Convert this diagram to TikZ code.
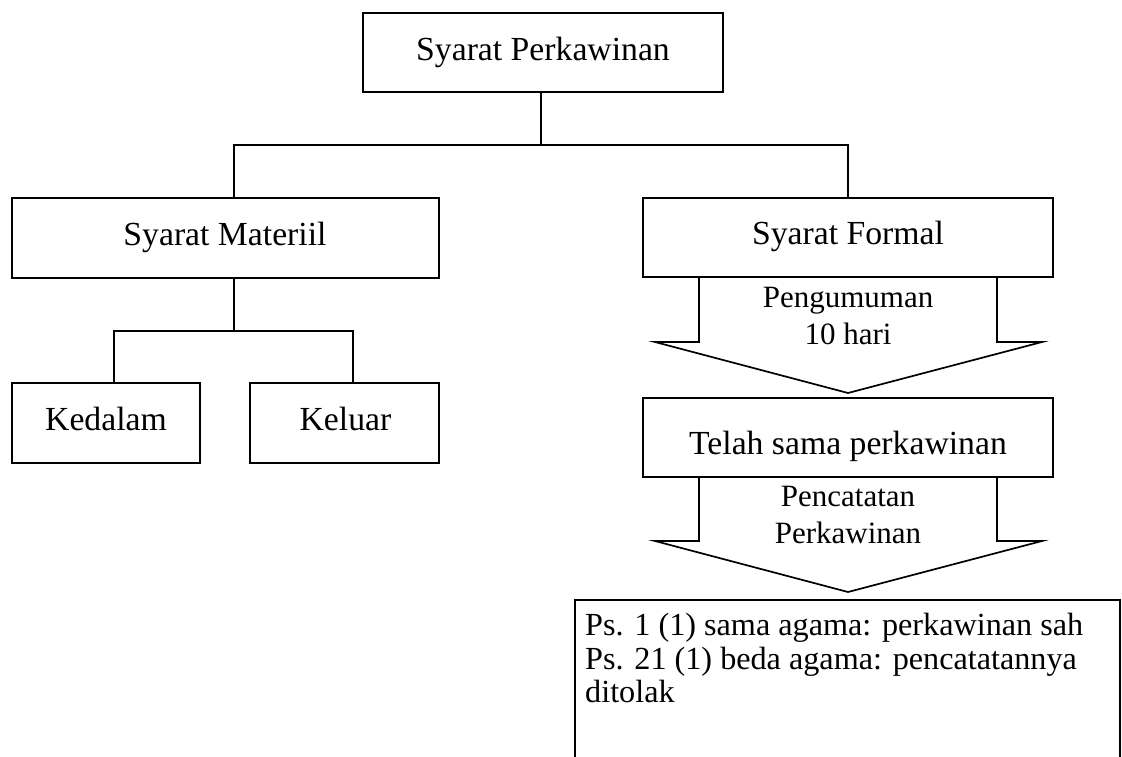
\documentclass[tikz,border=0pt]{standalone}
\usepackage{fontspec}
\setmainfont{Liberation Serif}
\begin{document}
\begin{tikzpicture}[x=1pt,y=-1pt,
  box/.style={draw, line width=1.7pt, rectangle, inner sep=0pt},
  boxtxt/.style={font=\fontsize{33.7}{40}\selectfont, inner sep=0pt, anchor=base},
  arrtxt/.style={font=\fontsize{31}{36}\selectfont, inner sep=0pt, anchor=base},
  restxt/.style={font=\fontsize{32.2}{34}\selectfont, inner sep=0pt, anchor=base west},
  conn/.style={line width=1.7pt},
  blockarrow/.style={line width=1.7pt, line join=miter}]
\useasboundingbox (0,0) rectangle (1122,756);

% boxes
\node[box, minimum width=360pt, minimum height=79pt] (top) at (543,52.5) {};
\node[box, minimum width=427pt, minimum height=80pt] (mat) at (225.5,238) {};
\node[box, minimum width=410pt, minimum height=79pt] (form) at (848,237.5) {};
\node[box, minimum width=188pt, minimum height=80pt] (ked) at (106,423) {};
\node[box, minimum width=189pt, minimum height=80pt] (kel) at (344.5,423) {};
\node[box, minimum width=410pt, minimum height=79pt] (telah) at (848,437.5) {};
\node[box, minimum width=545pt, minimum height=200pt, anchor=north west] (res) at (574,599) {};

% texts
\node[boxtxt] (ttop) at (543,60) {Syarat Perkawinan};
\node[boxtxt] (tmat) at (225,245) {Syarat Materiil};
\node[boxtxt] (tform) at (848,244) {Syarat Formal};
\node[boxtxt] (tked) at (106,430) {Kedalam};
\node[boxtxt] (tkel) at (345.5,430) {Keluar};
\node[boxtxt] (ttelah) at (848,454) {Telah sama perkawinan};

\node[arrtxt] (a1l1) at (848,307) {Pengumuman};
\node[arrtxt] (a1l2) at (848,344) {10 hari};
\node[arrtxt] (a2l1) at (848,506) {Pencatatan};
\node[arrtxt] (a2l2) at (848,543) {Perkawinan};

\node[restxt] (r1) at (585,635) {Ps. 1 (1) sama agama: perkawinan sah};
\node[restxt] (r2) at (585,669) {Ps. 21 (1) beda agama: pencatatannya};
\node[restxt] (r3) at (585,702) {ditolak};

% tree connectors
\coordinate (j1) at (541,145);
\coordinate (j2) at (234,331);
\draw[conn] (top.south -| j1) -- (j1);
\draw[conn] (j1) -| (mat.north -| 234,0);
\draw[conn] (j1) -| (form.north);
\draw[conn] (mat.south -| j2) -- (j2);
\draw[conn] (j2) -| (ked.north -| 114,0);
\draw[conn] (j2) -| (kel.north -| 353,0);

% block arrows
\draw[blockarrow] (form.south -| 699,0) -- (699,342) -- (655,342) -- (telah.north |- 0,393) -- (1042,342) -- (997,342) -- (form.south -| 997,0);
\draw[blockarrow] (telah.south -| 699,0) -- (699,541) -- (655,541) -- (848,592) -- (1042,541) -- (997,541) -- (telah.south -| 997,0);
\end{tikzpicture}
\end{document}
